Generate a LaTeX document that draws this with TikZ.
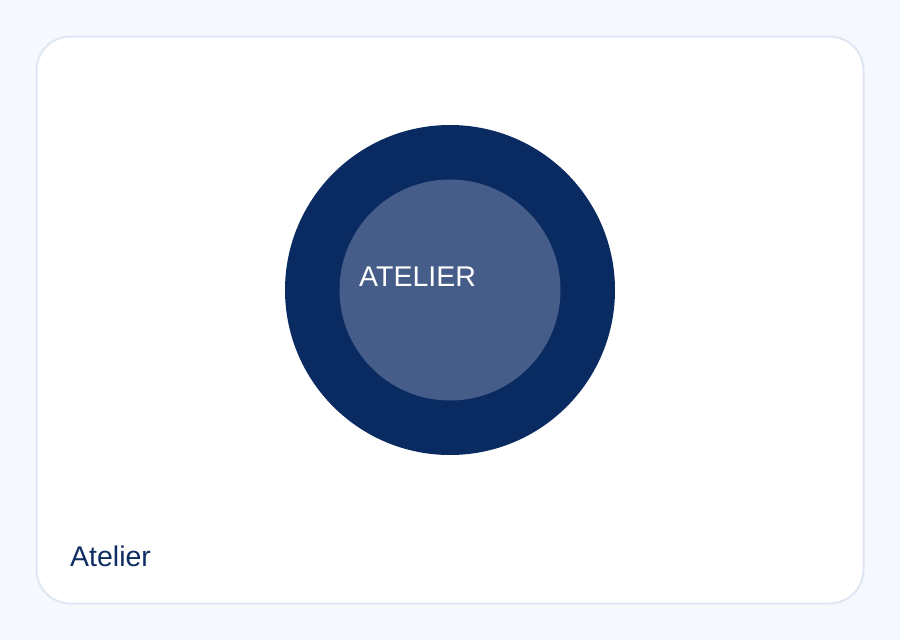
\documentclass[tikz,border=0pt]{standalone}
\usepackage{fontspec}
\setmainfont{Liberation Sans}
\definecolor{pagebg}{HTML}{F5F8FD}
\definecolor{cardline}{HTML}{E1E7F2}
\definecolor{ringdark}{HTML}{0A2B61}
\definecolor{coremid}{HTML}{455D88}
\definecolor{inkblue}{HTML}{0E2D63}
\tikzset{
    ring/.style={circle, fill=ringdark, minimum size=330pt, inner sep=0pt},
    core/.style={circle, fill=coremid, minimum size=221pt, inner sep=0pt},
    label/.style={anchor=base west, inner sep=0pt, font=\fontsize{28.5}{34}\selectfont}
}
\begin{document}
\begin{tikzpicture}[x=1pt, y=-1pt]
    \fill[pagebg] (0, 0) rectangle (900, 640);
    \useasboundingbox (0, 0) rectangle (900, 640);
    \draw[cardline, line width=2pt, fill=white, rounded corners=34pt] (36.5, 36.5) rectangle (863.5, 603.5);
    \node[ring] (outer) at (450, 290) {};
    \node[core] (inner) at (450, 290) {};
    \node[label, text=white] (title) at (359, 286) {ATELIER};
    \node[label, text=inkblue] (caption) at (70, 566) {Atelier};
\end{tikzpicture}
\end{document}
